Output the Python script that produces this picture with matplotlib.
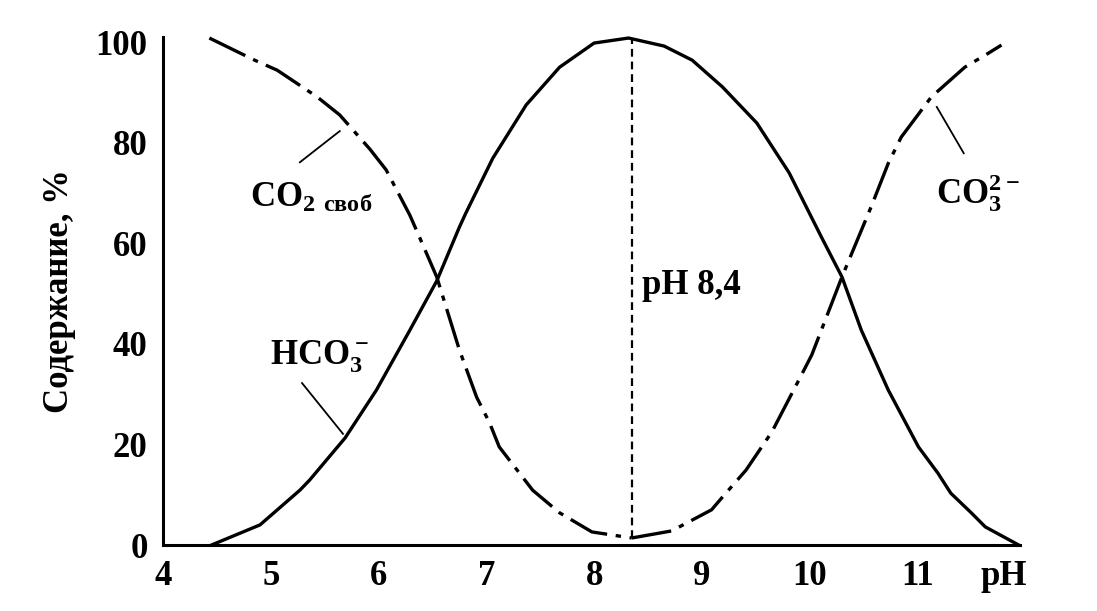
import numpy as np
import matplotlib
matplotlib.use("Agg")
import matplotlib.pyplot as plt

plt.rcParams['font.family'] = ['Liberation Serif', 'DejaVu Serif']
plt.rcParams['font.weight'] = 'bold'
plt.rcParams['axes.labelweight'] = 'bold'
plt.rcParams['mathtext.fontset'] = 'custom'
plt.rcParams['mathtext.rm'] = 'Liberation Serif:bold'

# values: pH vs content, %
co2_ph = [4.43, 4.85, 5.06, 5.43, 5.64, 5.92, 6.07, 6.29, 6.38, 6.54, 6.75, 6.91,
          7.03, 7.12, 7.43, 7.68, 7.98, 8.35]
co2_val = [100.8, 96.4, 94.4, 89.1, 85.5, 78.7, 74.6, 65.6, 61.2, 53.3, 38.8, 29.4,
           24.3, 19.5, 10.9, 6.4, 2.6, 1.4]

co3_ph = [8.35, 8.72, 9.09, 9.19, 9.41, 9.65, 9.90, 10.02, 10.30, 10.57, 10.73,
          10.85, 11.13, 11.44, 11.66, 11.78]
co3_val = [1.4, 2.8, 7.0, 9.5, 14.9, 22.5, 32.8, 37.8, 53.3, 67.2, 75.9,
           81.1, 89.1, 95.0, 97.8, 99.4]

hco3_ph = [4.45, 4.90, 5.27, 5.36, 5.69, 5.98, 6.29, 6.54, 6.75, 6.81, 7.06,
           7.37, 7.68, 8.00, 8.32, 8.65, 8.91, 9.19, 9.51, 9.81, 10.11, 10.30,
           10.48, 10.73, 11.01, 11.19, 11.31, 11.50, 11.63, 11.94]
hco3_val = [0.0, 4.0, 10.9, 12.9, 21.3, 30.8, 42.7, 52.5, 63.2, 66.0, 76.9,
            87.5, 95.0, 99.8, 100.8, 99.2, 96.4, 91.1, 83.9, 74.0, 61.2, 53.3,
            42.7, 30.8, 19.5, 14.3, 10.3, 6.4, 3.6, 0.0]

ph_mark = 8.35
xticks = [4, 5, 6, 7, 8, 9, 10, 11, 11.8]
xticklabels = ['4', '5', '6', '7', '8', '9', '10', '11', 'pH']
yticks = [0, 20, 40, 60, 80, 100]

fig = plt.figure(figsize=(10.97, 6.11), dpi=100)
ax = fig.add_axes([0.1486, 0.108, 0.781, 0.8314])

dashdot = (0, (12, 2.6, 1.6, 2.6))
ax.plot(co2_ph, co2_val, color='black', lw=2.4, linestyle=dashdot, clip_on=False)
ax.plot(co3_ph, co3_val, color='black', lw=2.4, linestyle=dashdot, clip_on=False)
ax.plot(hco3_ph, hco3_val, color='black', lw=2.4, clip_on=False)
ax.plot([ph_mark, ph_mark], [1.4, 100.8], color='black', lw=1.6,
        linestyle=(0, (3.5, 2.2)))

# leader lines to the labels
ax.plot([5.27, 5.64], [76.1, 82.3], color='black', lw=1.3)
ax.plot([5.29, 5.67], [32.2, 22.1], color='black', lw=1.3)
ax.plot([11.18, 11.43], [87.1, 77.9], color='black', lw=1.3)

ax.text(4.81, 69, r'$\mathregular{CO_{2\ своб}}$', fontsize=25, va='center', ha='left')
ax.text(4.99, 37.4, r'$\mathregular{HCO_3^-}$', fontsize=25, va='center', ha='left')
ax.text(11.17, 70, r'$\mathregular{CO_3^{2-}}$', fontsize=25, va='center', ha='left')
ax.text(8.44, 51.5, 'pH 8,4', fontsize=25, va='center', ha='left')

ax.set_xlim(4, 11.95)
ax.set_ylim(0, 101)
ax.set_xticks(xticks)
ax.set_xticklabels(xticklabels)
ax.set_yticks(yticks)
ax.tick_params(length=0, labelsize=25, pad=11)
ax.set_ylabel('Содержание, %', fontsize=25, labelpad=14)

for s in ['top', 'right']:
    ax.spines[s].set_visible(False)
for s in ['left', 'bottom']:
    ax.spines[s].set_linewidth(2.2)

fig.savefig('out.png', dpi=100)
